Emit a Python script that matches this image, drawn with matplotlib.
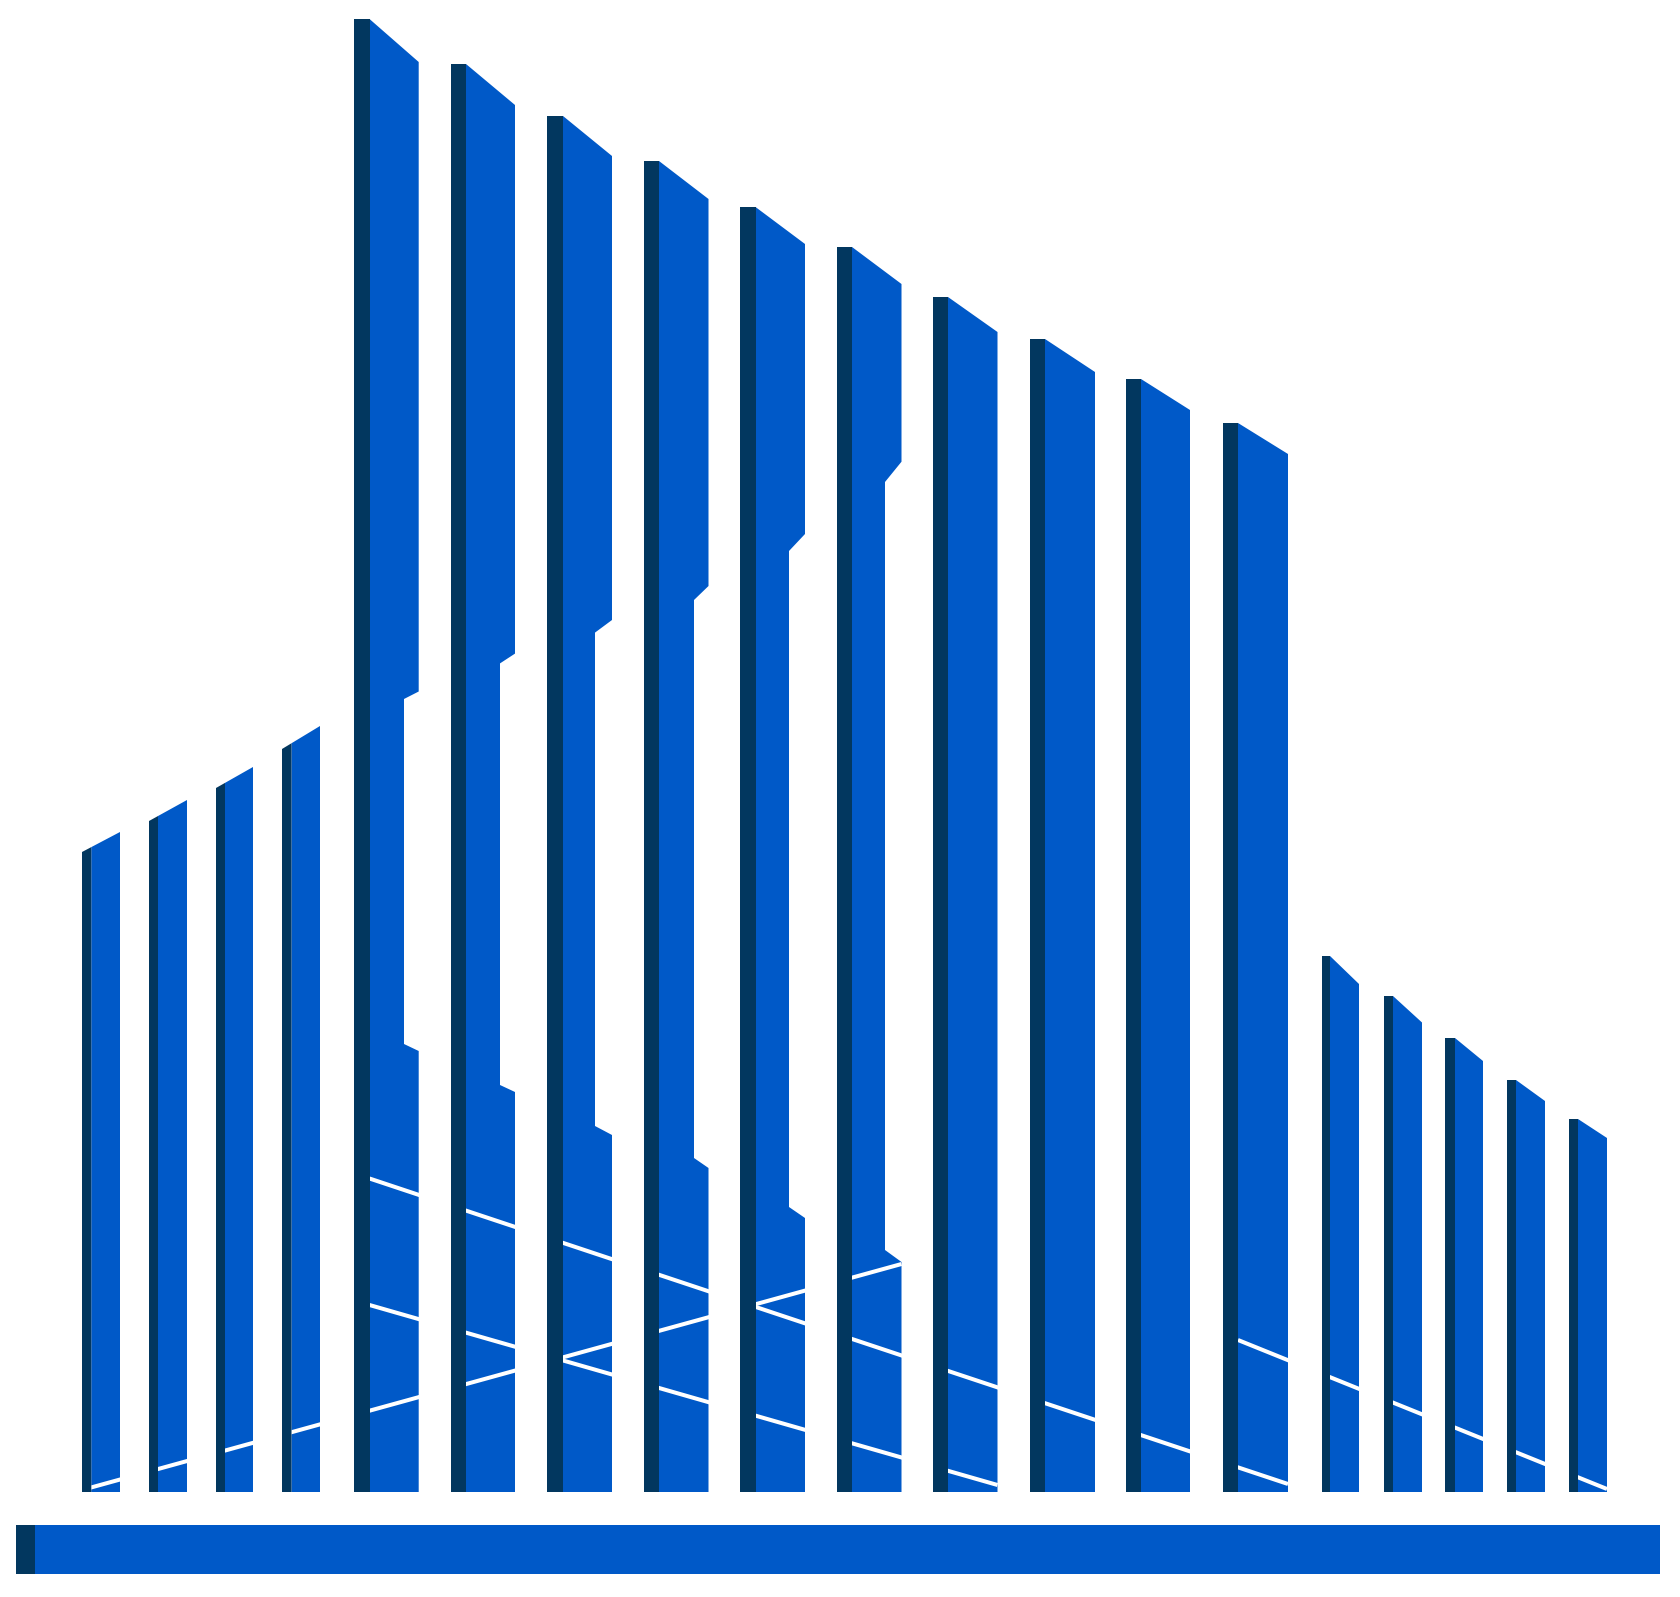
import matplotlib
matplotlib.use("Agg")
import matplotlib.pyplot as plt
import numpy as np

# ---- data (x in px units, heights above ground line) ----
bar_left   = [82, 149, 216, 282, 354, 451, 547, 644, 740, 837, 933, 1030, 1126, 1222.5, 1322, 1384, 1445, 1507, 1569]
dark_right = [91.3, 158, 225, 291.5, 369.5, 466, 563, 659, 755.5, 852, 948, 1045, 1141, 1238, 1330, 1393, 1455, 1516, 1578]
bar_right  = [120, 187, 253, 320, 418.7, 515, 612, 708.5, 805, 901.5, 997.5, 1095, 1190, 1288, 1359, 1422, 1483, 1545, 1607]
top_left   = [640, 671, 704, 743, 1473, 1428, 1376, 1331, 1285, 1245, 1195, 1153, 1113, 1069, 536, 496, 454, 412, 373]
top_right  = [660, 692, 725, 766, 1430, 1387, 1336, 1293, 1248, 1208, 1160, 1120, 1082, 1038, 508, 469.5, 431, 391, 354]

# notches on bars 5-10 (index 4..9)
notch_bar        = [4, 5, 6, 7, 8, 9]
notch_inner_x    = [404, 500, 595, 694, 789, 885]
notch_top_outer  = [800.5, 838.4, 872, 906, 958, 1030.3]
notch_top_inner  = [793, 828.6, 859.4, 892, 941, 1010]
notch_bot_inner  = [448, 407, 366, 334, 285, 242]
notch_bot_outer  = [441, 400, 357, 324, 274, 230]

# white lines: (x, height) end points
line_x = [[82, 901.5], [369.5, 997.5], [369.5, 1288], [1238, 1607]]
line_h = [[2, 228], [187, 7], [313.5, 8], [152, 3]]

# base slab
base_x = [16, 35, 1660]
base_h = [-82, -33]

BLUE = "#0059C8"
DARK = "#02375F"

fig = plt.figure(figsize=(16.8, 15.97), dpi=100)
ax = fig.add_axes([0, 0, 1, 1])
ax.set_xlim(0, 1680)
ax.set_ylim(-105, 1492)
ax.axis("off")

for i in range(len(bar_left)):
    xl, xd, xr = bar_left[i], dark_right[i], bar_right[i]
    tl, tr = top_left[i], top_right[i]
    rising = tr > tl
    if rising:
        slope = (tr - tl) / (xr - xl)
        t_dark_r = tl + slope * (xd - xl)
        dark_top_l, dark_top_r = tl, t_dark_r
        blue_top_l = t_dark_r
    else:
        dark_top_l, dark_top_r = tl, tl
        blue_top_l = tl
    # blue body
    pts = [(xd, 0), (xd, blue_top_l), (xr, tr)]
    if i in notch_bar:
        k = notch_bar.index(i)
        xi = notch_inner_x[k]
        pts += [(xr, notch_top_outer[k]), (xi, notch_top_inner[k]),
                (xi, notch_bot_inner[k]), (xr, notch_bot_outer[k])]
    pts += [(xr, 0)]
    px, py = zip(*pts)
    ax.fill(px, py, color=BLUE, lw=0, zorder=1)
    # dark side strip
    ax.fill([xl, xl, xd, xd], [0, dark_top_l, dark_top_r, 0], color=DARK, lw=0, zorder=3)

for lx, lh in zip(line_x, line_h):
    ax.plot(lx, lh, color="white", lw=2.9, solid_capstyle="butt", zorder=2)

# base slab
ax.fill([base_x[0], base_x[0], base_x[1], base_x[1]], [base_h[0], base_h[1], base_h[1], base_h[0]],
        color=DARK, lw=0, zorder=3)
ax.fill([base_x[1], base_x[1], base_x[2], base_x[2]], [base_h[0], base_h[1], base_h[1], base_h[0]],
        color=BLUE, lw=0, zorder=1)

fig.savefig("out.png", dpi=100, facecolor="white")
